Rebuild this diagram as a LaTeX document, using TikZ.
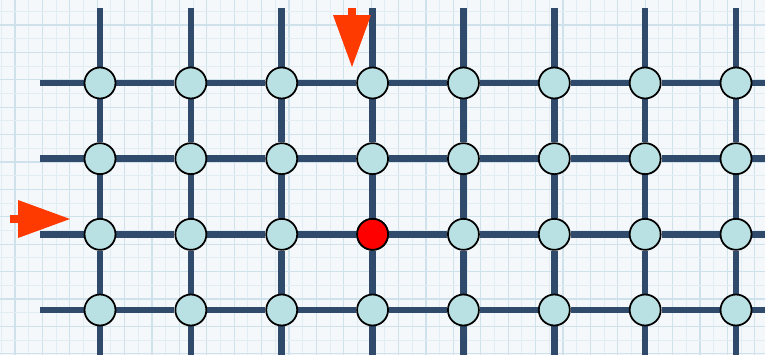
\documentclass[tikz,border=0pt]{standalone}
\usepackage{tikz}
\usetikzlibrary{arrows.meta,backgrounds}
\definecolor{paper}{HTML}{F4F8FB}
\definecolor{gridline}{HTML}{CFE1EA}
\definecolor{gridfaint}{HTML}{E2EDF3}
\definecolor{wire}{HTML}{2F4A6B}
\definecolor{site}{HTML}{B9E0E2}
\definecolor{hot}{HTML}{FF3A00}
\tikzset{
  wire/.style={line width=3.7pt,color=wire},
  site/.style={circle,minimum size=6.2mm,inner sep=0pt,draw=black,fill=site,line width=1pt},
  hotsite/.style={site,fill=red},
  pointer/.style={-{Triangle[length=10.4mm,width=7.6mm,line width=0pt]},line width=1.6mm,color=hot},
}

\begin{document}
\begin{tikzpicture}[x=0.02cm,y=0.02cm]
  \useasboundingbox (0,0) rectangle (765,355);

  % lattice sites
  \foreach \i in {1,...,8}
    \foreach \j in {1,...,4}
      \node[site] (n-\i-\j) at ({100+(\i-1)*90.86},{272-(\j-1)*75.67}) {};
  \node[hotsite] at (n-4-3) {};

  % free ends of the wires
  \foreach \i in {1,...,8} {
    \coordinate (t-\i) at ({100+(\i-1)*90.86},347);
    \coordinate (b-\i) at ({100+(\i-1)*90.86},0);
  }
  \foreach \j in {1,...,4} {
    \coordinate (l-\j) at (40,{272-(\j-1)*75.67});
    \coordinate (r-\j) at (765,{272-(\j-1)*75.67});
  }

  \begin{scope}[on background layer]
    \fill[paper] (0,0) rectangle (765,355);
    \foreach \k in {0,...,27} {
      \draw[gridfaint,line width=.5pt] ({1.3+27.4*\k},0) -- ++(0,355);
      \draw[gridline,line width=.6pt] ({15+27.4*\k},0) -- ++(0,355);
    }
    \foreach \k in {0,...,12} {
      \draw[gridline,line width=.6pt] (0,{330-27.4*\k}) -- ++(765,0);
      \draw[gridfaint,line width=.5pt] (0,{343.7-27.4*\k}) -- ++(765,0);
    }
    \foreach \i in {1,...,8}
      \draw[wire] (t-\i) -- (n-\i-1) -- (n-\i-2) -- (n-\i-3) -- (n-\i-4) -- (b-\i);
    \foreach \j in {1,...,4}
      \draw[wire] (l-\j) -- (n-1-\j) -- (n-2-\j) -- (n-3-\j) -- (n-4-\j)
        -- (n-5-\j) -- (n-6-\j) -- (n-7-\j) -- (n-8-\j) -- (r-\j);
  \end{scope}

  % input pointers
  \coordinate (downtail) at (352,347);
  \coordinate (downtip) at (352,288);
  \coordinate (righttail) at (10,136);
  \coordinate (righttip) at (70,136);
  \draw[pointer] (downtail) -- (downtip);
  \draw[pointer] (righttail) -- (righttip);
\end{tikzpicture}
\end{document}
